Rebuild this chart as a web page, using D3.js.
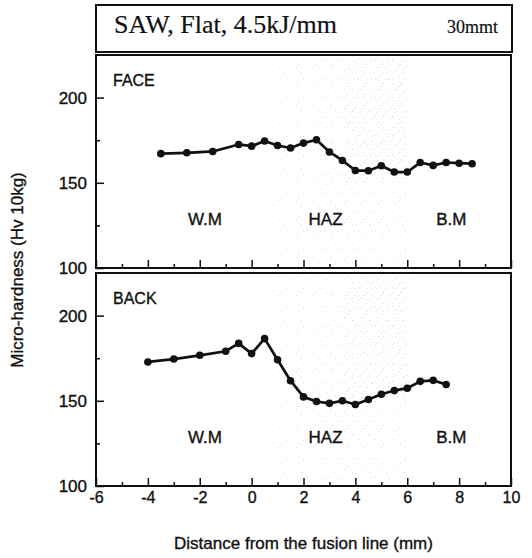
<!DOCTYPE html>
<html>
<head>
<meta charset="utf-8">
<script src="https://cdn.jsdelivr.net/npm/d3@7"></script>
<style>
  body { margin: 0; background: #fff; }
  svg text { font-family: "Liberation Sans", Arial, sans-serif; fill: #111; stroke: #111; stroke-width: 0.35px; }
</style>
</head>
<body>
<svg width="532" height="558"></svg>
<script>
// readings
var faceX  = [-3.5, -2.5, -1.5, -0.5, 0, 0.5, 1, 1.5, 2, 2.5, 3, 3.5, 4, 4.5, 5, 5.5, 6, 6.5, 7, 7.5, 8, 8.5];
var faceHv = [167.1, 167.6, 168.4, 172.5, 171.5, 174.5, 171.9, 170.4, 173.3, 175.3, 168.1, 163.1, 157.2, 157.1, 160, 156.3, 156.3, 161.9, 160.2, 161.9, 161.5, 161.2];
var backX  = [-4, -3, -2, -1, -0.5, 0, 0.5, 1, 1.5, 2, 2.5, 3, 3.5, 4, 4.5, 5, 5.5, 6, 6.5, 7, 7.5];
var backHv = [172.8, 174.5, 176.7, 179.1, 183.7, 177.7, 186.5, 174.1, 161.8, 152.3, 149.6, 148.5, 150, 147.8, 150.8, 153.8, 156, 157.4, 161.4, 162, 159.6];

var xTicks = [-6, -4, -2, 0, 2, 4, 6, 8, 10];
var xMinor = [-5, -3, -1, 1, 3, 5, 7, 9];
var yTicks = [100, 150, 200];
var yMinor = [125, 175];

var zoneNames = ["W.M", "HAZ", "B.M"];
var zoneAt = [-1.8, 2.85, 7.7];

var svg = d3.select("svg");
var left = 96, right = 511, panelH = 213;

var x = d3.scaleLinear().domain([-6, 10]).range([left, right]);

// faint stipple over the HAZ
var defs = svg.append("defs");
var p1 = defs.append("pattern").attr("id", "stip").attr("patternUnits", "userSpaceOnUse")
    .attr("width", 17).attr("height", 19);
[[1,2],[9,7],[14,3],[4,13],[12,16],[7,10]].forEach(function(d){
    p1.append("rect").attr("x", d[0]).attr("y", d[1]).attr("width", 1).attr("height", 1).attr("fill", "#888");
});
var p2 = defs.append("pattern").attr("id", "stip2").attr("patternUnits", "userSpaceOnUse")
    .attr("width", 9).attr("height", 11);
[[1,1],[5,6],[7,2],[3,9]].forEach(function(d){
    p2.append("rect").attr("x", d[0]).attr("y", d[1]).attr("width", 1).attr("height", 1).attr("fill", "#999");
});

// title box
svg.append("rect").attr("x", 96).attr("y", 5).attr("width", 416).attr("height", 47)
    .attr("fill", "none").attr("stroke", "#111").attr("stroke-width", 2);
svg.append("text").attr("x", 114).attr("y", 33)
    .style("font-family", "'Liberation Serif', 'Times New Roman', serif")
    .style("font-size", "26px").style("stroke-width", "0.2px").text("SAW, Flat, 4.5kJ/mm");
svg.append("text").attr("x", 498).attr("y", 33).attr("text-anchor", "end")
    .style("font-family", "'Liberation Serif', 'Times New Roman', serif")
    .style("font-size", "18px").style("stroke-width", "0.2px").text("30mmt");

var panels = [
    { name: "FACE", top: 55, xs: faceX, ys: faceHv, labels: false },
    { name: "BACK", top: 273, xs: backX, ys: backHv, labels: true }
];

panels.forEach(function(p) {
    var y = d3.scaleLinear().domain([100, 225]).range([p.top + panelH, p.top]);
    var g = svg.append("g");

    g.append("rect").attr("x", x(1)).attr("y", p.top).attr("width", x(6.3) - x(1)).attr("height", panelH)
        .attr("fill", "url(#stip)").attr("opacity", 0.3);
    g.append("rect").attr("x", x(3.6)).attr("y", p.top).attr("width", x(6) - x(3.6)).attr("height", panelH * 0.6)
        .attr("fill", "url(#stip2)").attr("opacity", 0.25);

    // y axis, ticks pointing inward
    g.append("g").attr("transform", "translate(" + left + ",0)")
        .call(d3.axisLeft(y).tickValues(yTicks).tickSize(-8).tickPadding(9).tickFormat(function(d){ return String(d); }))
        .call(function(a){ a.select(".domain").remove(); })
        .call(function(a){ a.selectAll("line").attr("stroke", "#111").attr("stroke-width", 1.5); })
        .call(function(a){ a.selectAll("text").style("font-size", "17px").attr("fill", "#111"); });
    g.append("g").attr("transform", "translate(" + left + ",0)")
        .call(d3.axisLeft(y).tickValues(yMinor).tickSize(-4).tickFormat(""))
        .call(function(a){ a.select(".domain").remove(); })
        .call(function(a){ a.selectAll("line").attr("stroke", "#111").attr("stroke-width", 1.5); });

    // x axis at panel bottom
    var bottom = p.top + panelH;
    var ax = d3.axisBottom(x).tickValues(xTicks).tickSize(-8).tickPadding(6)
        .tickFormat(function(d){ return p.labels ? String(d) : ""; });
    g.append("g").attr("transform", "translate(0," + bottom + ")")
        .call(ax)
        .call(function(a){ a.select(".domain").remove(); })
        .call(function(a){ a.selectAll("line").attr("stroke", "#111").attr("stroke-width", 1.5); })
        .call(function(a){ a.selectAll("text").style("font-size", "16px").attr("fill", "#111"); });
    g.append("g").attr("transform", "translate(0," + bottom + ")")
        .call(d3.axisBottom(x).tickValues(xMinor).tickSize(-4).tickFormat(""))
        .call(function(a){ a.select(".domain").remove(); })
        .call(function(a){ a.selectAll("line").attr("stroke", "#111").attr("stroke-width", 1.5); });

    g.append("rect").attr("x", left).attr("y", p.top).attr("width", right - left).attr("height", panelH)
        .attr("fill", "none").attr("stroke", "#111").attr("stroke-width", 2);

    g.append("text").attr("x", left + 17).attr("y", p.top + 31)
        .style("font-size", "16px").text(p.name);

    g.selectAll(".zone").data(zoneNames).enter().append("text")
        .attr("x", function(d, i){ return x(zoneAt[i]); })
        .attr("y", y(125))
        .attr("text-anchor", "middle")
        .style("font-size", "17px")
        .text(function(d){ return d; });

    var pts = p.xs.map(function(v, i){ return [v, p.ys[i]]; });
    var line = d3.line()
        .x(function(d){ return x(d[0]); })
        .y(function(d){ return y(d[1]); });
    g.append("path").datum(pts).attr("d", line)
        .attr("fill", "none").attr("stroke", "#111").attr("stroke-width", 2.7)
        .attr("stroke-linejoin", "round");
    g.selectAll(".pt").data(pts).enter().append("circle")
        .attr("cx", function(d){ return x(d[0]); })
        .attr("cy", function(d){ return y(d[1]); })
        .attr("r", 3.8).attr("fill", "#111");
});

svg.append("text").attr("x", (left + right) / 2).attr("y", 549).attr("text-anchor", "middle")
    .style("font-size", "17px").text("Distance from the fusion line (mm)");
svg.append("text").attr("transform", "translate(23,270) rotate(-90)").attr("text-anchor", "middle")
    .style("font-size", "17px").text("Micro-hardness (Hv 10kg)");
</script>
</body>
</html>
